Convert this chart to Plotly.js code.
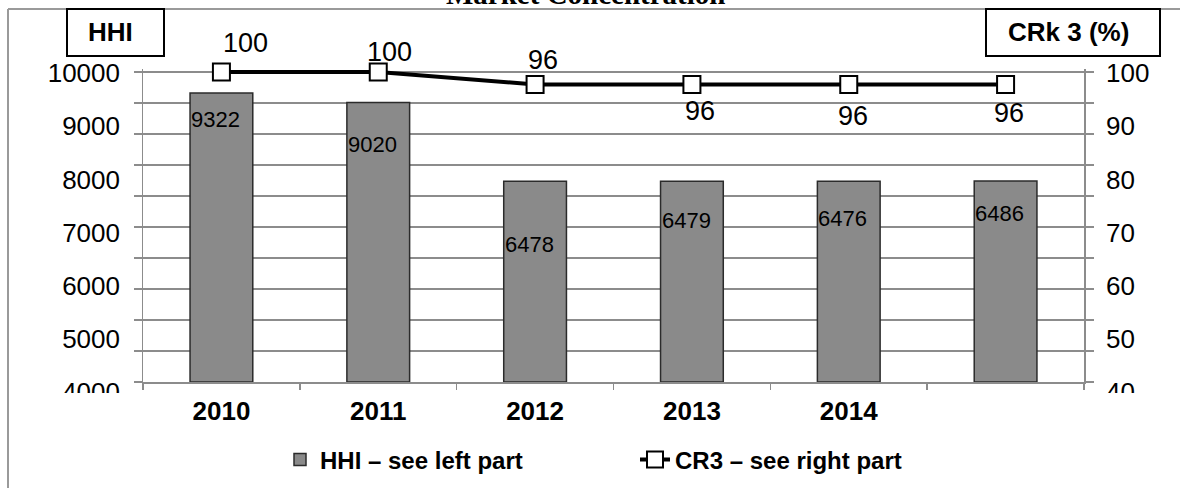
<!DOCTYPE html>
<html>
<head>
<meta charset="utf-8">
<script src="https://cdn.plot.ly/plotly-3.0.1.min.js"></script>
<style>html,body{margin:0;padding:0;background:#fff;}#chart{width:1180px;height:488px;}</style>
</head>
<body>
<div id="chart"></div>
<script>
// ---------- data ----------
const chartTitle = 'Market Concentration';
const yearLabels = ['2010', '2011', '2012', '2013', '2014']; // sixth category has no label
const hhiValues = [9322, 9020, 6478, 6479, 6476, 6486];
const cr3Values = [100, 100, 96, 96, 96, 96];
const hhiAxisLabels = ['10000', '9000', '8000', '7000', '6000', '5000', '4000'];
const crAxisLabels = ['100', '90', '80', '70', '60', '50', '40'];
const leftBoxText = 'HHI';
const rightBoxText = 'CRk 3 (%)';
const hhiName = 'HHI – see left part';
const cr3Name = 'CR3 – see right part';

// ---------- layout constants (pixels) ----------
const W = 1180, H = 488;
const plotL = 143, plotR = 1084;
const areaT = 69;          // top of the drawing area (a little above the top grid line so the line is not cut)
const gridTopPx = 72;      // pixel row of the top grid line
const axisB = 382, areaB = 402;
const areaH = areaB - areaT;
const px2x = p => (p - plotL) / (plotR - plotL);
const px2y = p => (areaB - p) / areaH;
const labelTopPx = 73, labelStepPx = 53.2;
const barWidth = 0.4;
const GRID = '#8c8c8c';
const SANS = 'Liberation Sans, Arial, sans-serif';
const topStretch = (axisB - areaT) / (axisB - gridTopPx);
const hhiMax = 10000, crMax = 100;

// label-axis ranges so that printed labels sit where they are in the picture
function labelRange(labels) {
  const vals = labels.map(Number);
  const top = Math.max(...vals), step = (vals[0] - vals[1]);
  const perPx = step / labelStepPx;
  return [top - (areaB - labelTopPx) * perPx, top + (labelTopPx - areaT) * perPx];
}

const idx = hhiValues.map((_, i) => i);
const boundaries = hhiValues.map((_, i) => i - 0.5).concat([hhiValues.length - 0.5]);

// per-label offsets (pixels) for data labels
const barLabelDrop = [26, 42, 63, 39, 37, 33];
const lineLabelShift = [[24, 29], [11, 20], [8, 24], [8, -27], [4, -32], [3, -29]];

const traces = [
  {
    type: 'bar', x: idx, y: hhiValues, width: barWidth, name: hhiName,
    marker: {color: '#8a8a8a', line: {color: '#2b2b2b', width: 1.5}},
    hoverinfo: 'skip'
  },
  {
    type: 'scatter', mode: 'lines+markers', x: idx, y: cr3Values, yaxis: 'y2', name: cr3Name,
    line: {color: '#000', width: 4}, cliponaxis: false,
    marker: {symbol: 'square', size: 17, color: '#fff', line: {color: '#000', width: 2}},
    hoverinfo: 'skip'
  },
  // empty carriers so that the two label axes get drawn
  {type: 'scatter', x: [0], y: [null], yaxis: 'y3', showlegend: false, hoverinfo: 'skip', mode: 'markers'},
  {type: 'scatter', x: [0], y: [null], yaxis: 'y4', showlegend: false, hoverinfo: 'skip', mode: 'markers'}
];

const annotations = [];
hhiValues.forEach((v, i) => {
  annotations.push({
    x: i - barWidth / 2, y: v, xref: 'x', yref: 'y', xanchor: 'left', yanchor: 'middle',
    yshift: -barLabelDrop[i], xshift: -1, showarrow: false, text: String(v),
    font: {family: SANS, size: 22, color: '#000'}
  });
});
cr3Values.forEach((v, i) => {
  annotations.push({
    x: i, y: v, xref: 'x', yref: 'y2', xanchor: 'center', yanchor: 'middle',
    xshift: lineLabelShift[i][0], yshift: lineLabelShift[i][1], showarrow: false, text: String(v),
    font: {family: SANS, size: 27, color: '#000'}
  });
});
annotations.push({
  x: px2x(110), y: px2y(32), xref: 'paper', yref: 'paper', xanchor: 'center', yanchor: 'middle',
  showarrow: false, text: leftBoxText,
  font: {family: SANS, size: 26, color: '#000', weight: 'bold'}
});
annotations.push({
  x: px2x(1068), y: px2y(32), xref: 'paper', yref: 'paper', xanchor: 'center', yanchor: 'middle',
  showarrow: false, text: rightBoxText,
  font: {family: SANS, size: 26, color: '#000', weight: 'bold'}
});
annotations.push({
  x: px2x(585), y: px2y(-6), xref: 'paper', yref: 'paper', xanchor: 'center', yanchor: 'middle',
  showarrow: false, text: chartTitle,
  font: {family: 'Liberation Serif, Times New Roman, serif', size: 29, color: '#000', weight: 'bold'}
});

const shapes = [
  // cover the lower part of the bottom axis labels (they are cut in the picture)
  {type: 'rect', xref: 'paper', yref: 'paper', x0: px2x(10), x1: px2x(136), y0: px2y(393), y1: px2y(488), fillcolor: '#fff', line: {width: 0}, layer: 'above'},
  {type: 'rect', xref: 'paper', yref: 'paper', x0: px2x(1096), x1: px2x(1178), y0: px2y(393), y1: px2y(488), fillcolor: '#fff', line: {width: 0}, layer: 'above'},
  // hide the short axis-line stubs above the top grid line
  {type: 'rect', xref: 'paper', yref: 'paper', x0: px2x(138), x1: px2x(148), y0: px2y(71.2), y1: px2y(66), fillcolor: '#fff', line: {width: 0}, layer: 'below'},
  // outer frame (top and left)
  {type: 'line', xref: 'paper', yref: 'paper', x0: px2x(8), x1: px2x(1182), y0: px2y(9), y1: px2y(9), line: {color: '#9a9a9a', width: 2}, layer: 'above'},
  {type: 'line', xref: 'paper', yref: 'paper', x0: px2x(8), x1: px2x(8), y0: px2y(9), y1: px2y(490), line: {color: '#9a9a9a', width: 2}, layer: 'above'},
  // label boxes
  {type: 'rect', xref: 'paper', yref: 'paper', x0: px2x(67), x1: px2x(164), y0: px2y(56), y1: px2y(9), fillcolor: '#fff', line: {color: '#000', width: 2}, layer: 'above'},
  {type: 'rect', xref: 'paper', yref: 'paper', x0: px2x(986), x1: px2x(1160), y0: px2y(56), y1: px2y(9), fillcolor: '#fff', line: {color: '#000', width: 2}, layer: 'above'}
];

const layout = {
  width: W, height: H,
  margin: {l: plotL, r: W - plotR, t: areaT, b: H - areaB, pad: 0, autoexpand: false},
  paper_bgcolor: '#fff', plot_bgcolor: 'rgba(0,0,0,0)',
  showlegend: true,
  legend: {
    orientation: 'h', x: px2x(280), xanchor: 'left', y: px2y(460), yanchor: 'middle',
    font: {family: SANS, size: 24, color: '#000', weight: 'bold'},
    bgcolor: 'rgba(0,0,0,0)', entrywidth: 310, entrywidthmode: 'pixels', traceorder: 'normal'
  },
  xaxis: {
    anchor: 'y', range: [-0.5, hhiValues.length - 0.5],
    tickmode: 'array', tickvals: yearLabels.map((_, i) => i), ticktext: yearLabels,
    ticks: '', showgrid: false, zeroline: false,
    showline: true, linecolor: GRID, linewidth: 1.5,
    tickfont: {family: SANS, size: 26, color: '#000', weight: 'bold'},
    ticklabelstandoff: 5,
    minor: {tickmode: 'array', tickvals: boundaries, ticks: 'outside', ticklen: 6, tickcolor: GRID, tickwidth: 1.5, showgrid: false}
  },
  yaxis: {
    domain: [px2y(axisB), 1], range: [0, hhiMax * topStretch], tick0: 0, dtick: 1000,
    showgrid: true, gridcolor: GRID, gridwidth: 1.5,
    ticks: 'outside', ticklen: 8, tickcolor: GRID, tickwidth: 1.5,
    showticklabels: false, showline: true, linecolor: GRID, linewidth: 1.5, zeroline: false
  },
  yaxis2: {
    overlaying: 'y', side: 'right', anchor: 'x', range: [0, crMax * topStretch], tick0: 0, dtick: 10,
    showgrid: false, ticks: 'outside', ticklen: 8, tickcolor: GRID, tickwidth: 1.5,
    showticklabels: false, showline: true, linecolor: GRID, linewidth: 1.5, zeroline: false
  },
  yaxis3: {
    domain: [0, 1], anchor: 'x', side: 'left', range: labelRange(hhiAxisLabels),
    tickmode: 'array', tickvals: hhiAxisLabels.map(Number), ticktext: hhiAxisLabels,
    ticks: '', showgrid: false, showline: false, zeroline: false, ticklabelstandoff: 22,
    tickfont: {family: SANS, size: 26, color: '#000'}
  },
  yaxis4: {
    domain: [0, 1], anchor: 'x', side: 'right', range: labelRange(crAxisLabels),
    tickmode: 'array', tickvals: crAxisLabels.map(Number), ticktext: crAxisLabels,
    ticks: '', showgrid: false, showline: false, zeroline: false, ticklabelstandoff: 21,
    tickfont: {family: SANS, size: 26, color: '#000'}
  },
  annotations: annotations,
  shapes: shapes
};

Plotly.newPlot('chart', traces, layout, {staticPlot: true, displayModeBar: false});
</script>
</body>
</html>
